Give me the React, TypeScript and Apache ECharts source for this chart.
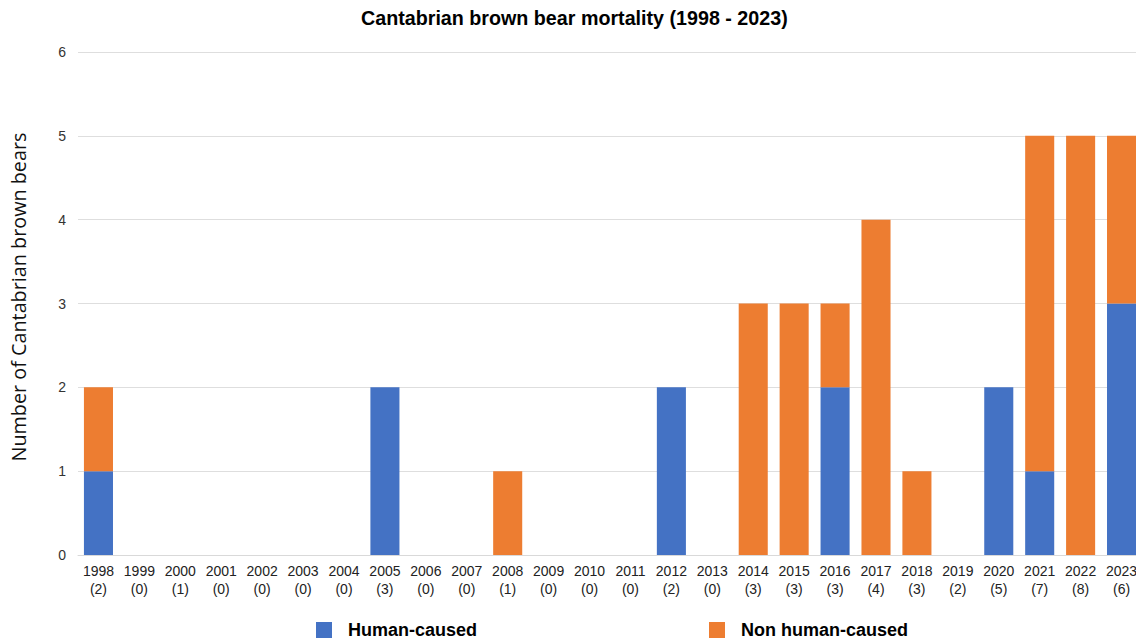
import React, { useEffect, useRef } from "react";
import * as echarts from "echarts";

const years = ["1998","1999","2000","2001","2002","2003","2004","2005","2006","2007","2008","2009","2010","2011","2012","2013","2014","2015","2016","2017","2018","2019","2020","2021","2022","2023"];
const totals = [2,0,1,0,0,0,0,3,0,0,1,0,0,0,2,0,3,3,3,4,3,2,5,7,8,6];
const humanCaused = [1,0,0,0,0,0,0,2,0,0,0,0,0,0,2,0,0,0,2,0,0,0,2,1,0,3];
const nonHumanCaused = [1,0,0,0,0,0,0,0,0,0,1,0,0,0,0,0,3,3,1,4,1,0,0,4,5,2];
const yTicks = [0, 1, 2, 3, 4, 5, 6];

const categories = years.map((y, i) => `${y}\n(${totals[i]})`);

export default function App() {
  const ref = useRef<HTMLDivElement>(null);
  useEffect(() => {
    const chart = echarts.init(ref.current!, null, { renderer: "svg" });
    const legendText = { fontFamily: "Liberation Sans", fontSize: 18, fontWeight: "bold", color: "#000", padding: [0, 0, 0, 11] };
    chart.setOption({
      animation: false,
      backgroundColor: "#ffffff",
      title: {
        text: "Cantabrian brown bear mortality (1998 - 2023)",
        left: 361,
        top: 8,
        padding: 0,
        textStyle: { fontFamily: "Liberation Sans", fontSize: 19.7, fontWeight: "bold", color: "#000" },
      },
      legend: [
        {
          left: 316,
          top: 621,
          padding: 0,
          itemWidth: 16,
          itemHeight: 16,
          icon: "rect",
          textStyle: legendText,
          data: ["Human-caused"],
        },
        {
          left: 709,
          top: 621,
          padding: 0,
          itemWidth: 16,
          itemHeight: 16,
          icon: "rect",
          textStyle: legendText,
          data: ["Non human-caused"],
        },
      ],
      grid: { left: 78, width: 1064, top: 52, bottom: 83, containLabel: false, outerBoundsMode: "none" },
      xAxis: {
        type: "category",
        data: categories,
        axisTick: { show: false },
        axisLine: { lineStyle: { color: "#d9d9d9" } },
        axisLabel: {
          interval: 0,
          margin: 7,
          fontFamily: "Liberation Sans",
          fontSize: 14,
          lineHeight: 18,
          color: "#222",
        },
      },
      yAxis: {
        type: "value",
        min: yTicks[0],
        max: yTicks[yTicks.length - 1],
        interval: 1,
        name: "Number of Cantabrian brown bears",
        nameLocation: "middle",
        nameGap: 50,
        nameTextStyle: { fontFamily: "Open Sans", fontSize: 19.8, color: "#111", padding: [0, 0, 0, 13] },
        axisLine: { show: false },
        axisTick: { show: false },
        axisLabel: { fontFamily: "Liberation Sans", fontSize: 14, color: "#333", margin: 12 },
        splitLine: { lineStyle: { color: "#dedede" } },
      },
      series: [
        {
          name: "Human-caused",
          type: "bar",
          stack: "total",
          barWidth: "71%",
          data: humanCaused,
          itemStyle: { color: "#4472C4" },
        },
        {
          name: "Non human-caused",
          type: "bar",
          stack: "total",
          barWidth: "71%",
          data: nonHumanCaused,
          itemStyle: { color: "#ED7D31" },
        },
      ],
    });
    return () => chart.dispose();
  }, []);
  return <div ref={ref} style={{ width: 1136, height: 638, position: "absolute", left: 0, top: 0 }} />;
}
